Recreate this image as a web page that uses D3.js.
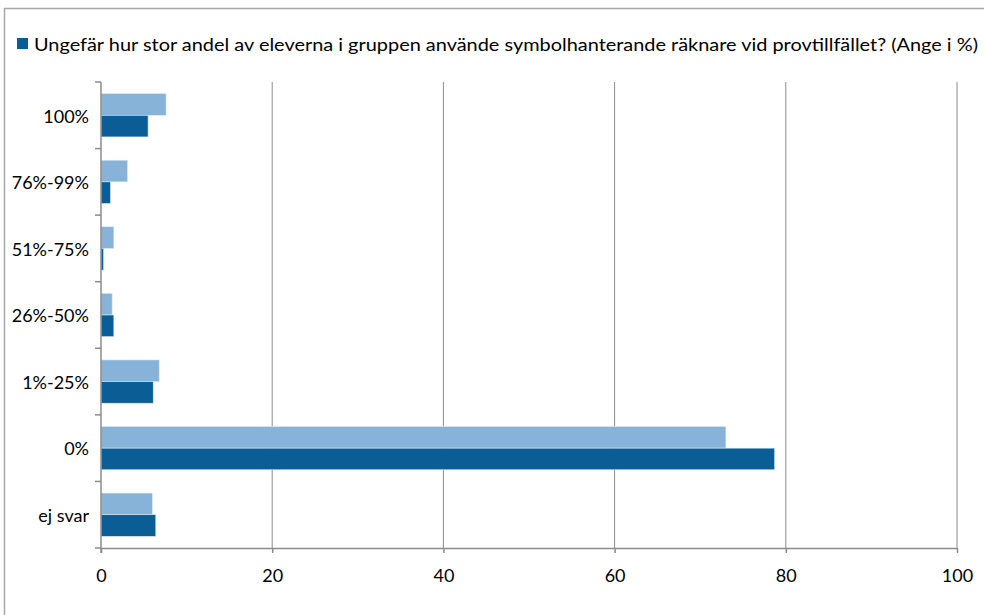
<!DOCTYPE html>
<html>
<head>
<meta charset="utf-8">
<script src="https://cdn.jsdelivr.net/npm/d3@7"></script>
<style>
  html, body { margin: 0; padding: 0; background: #fff; }
  svg { display: block; }
  text { font-family: Lato, "Open Sans", "Noto Sans", sans-serif; fill: #000; }
</style>
</head>
<body>
<svg id="chart" width="984" height="615"></svg>
<script>
// ---- data ----
const categories = ["100%", "76%-99%", "51%-75%", "26%-50%", "1%-25%", "0%", "ej svar"];
const seriesNames = ["Serie 1", "Ungefär hur stor andel av eleverna i gruppen använde symbolhanterande räknare vid provtillfället? (Ange i %)"];
const seriesLight = [7.6, 3.1, 1.5, 1.3, 6.8, 73.0, 6.0];
const seriesDark  = [5.5, 1.1, 0.3, 1.5, 6.1, 78.7, 6.4];
const xTicks = [0, 20, 40, 60, 80, 100];

const colors = ["#87b3d9", "#0b5e95"];

const svg = d3.select("#chart");
const W = 984, H = 615;
const m = { left: 101, right: 957, top: 82, bottom: 548 };

// outer border
svg.append("path")
  .attr("d", `M4.5,${H} V8.5 H${W}`)
  .attr("fill", "none").attr("stroke", "#a6a6a6").attr("stroke-width", 1.5);

const x = d3.scaleLinear().domain([0, 100]).range([m.left, m.right]);
const y = d3.scaleBand().domain(categories).range([m.top, m.bottom]).padding(0);
const ys = d3.scaleBand().domain([0, 1])
  .range([y.bandwidth() * 0.175, y.bandwidth() * 0.825]);

// gridlines
svg.append("g").selectAll("line").data(xTicks.filter(d => d > 0)).join("line")
  .attr("x1", d => x(d)).attr("x2", d => x(d))
  .attr("y1", m.top).attr("y2", m.bottom)
  .attr("stroke", "#8c8c8c").attr("stroke-width", 1);

// bars
const data = categories.map((c, i) => ({ c, v: [seriesLight[i], seriesDark[i]] }));
const g = svg.append("g");
data.forEach(d => {
  d.v.forEach((v, s) => {
    g.append("rect")
      .attr("x", x(0))
      .attr("y", y(d.c) + ys(s))
      .attr("width", x(v) - x(0))
      .attr("height", ys.bandwidth())
      .attr("fill", colors[s])
      .attr("stroke", "#dbe8f3").attr("stroke-width", 0.6);
  });
});

// x axis
const xAxis = d3.axisBottom(x).tickValues(xTicks).tickSize(5).tickPadding(16).tickSizeOuter(0);
const gx = svg.append("g").attr("transform", `translate(0,${m.bottom})`).call(xAxis);
gx.select(".domain").attr("stroke", "#8c8c8c").attr("stroke-width", 1.5);
gx.selectAll(".tick line").attr("stroke", "#8c8c8c").attr("stroke-width", 1.5);
gx.selectAll(".tick text").attr("font-size", 18).attr("font-family", "Lato, 'Open Sans', sans-serif").attr("fill", "#000");

// y axis: line + ticks at band boundaries
svg.append("line").attr("x1", m.left).attr("x2", m.left).attr("y1", m.top).attr("y2", m.bottom + 5)
  .attr("stroke", "#8c8c8c").attr("stroke-width", 1.5);
const bounds = categories.map(c => y(c)).concat([m.bottom]);
svg.append("g").selectAll("line").data(bounds).join("line")
  .attr("x1", m.left - 6).attr("x2", m.left)
  .attr("y1", d => d).attr("y2", d => d)
  .attr("stroke", "#8c8c8c").attr("stroke-width", 1.5);
svg.append("g").selectAll("text").data(categories).join("text")
  .attr("x", 89).attr("y", d => y(d) + y.bandwidth() / 2 + 1)
  .attr("dy", "0.35em").attr("text-anchor", "end")
  .attr("font-size", 18)
  .text(d => d);

// legend (only the dark series is shown)
svg.append("rect").attr("x", 17).attr("y", 38).attr("width", 11).attr("height", 11).attr("fill", colors[1]);
svg.append("text").attr("x", 34).attr("y", 51)
  .attr("font-size", 18)
  .attr("textLength", 944).attr("lengthAdjust", "spacingAndGlyphs")
  .text(seriesNames[1]);
</script>
</body>
</html>
